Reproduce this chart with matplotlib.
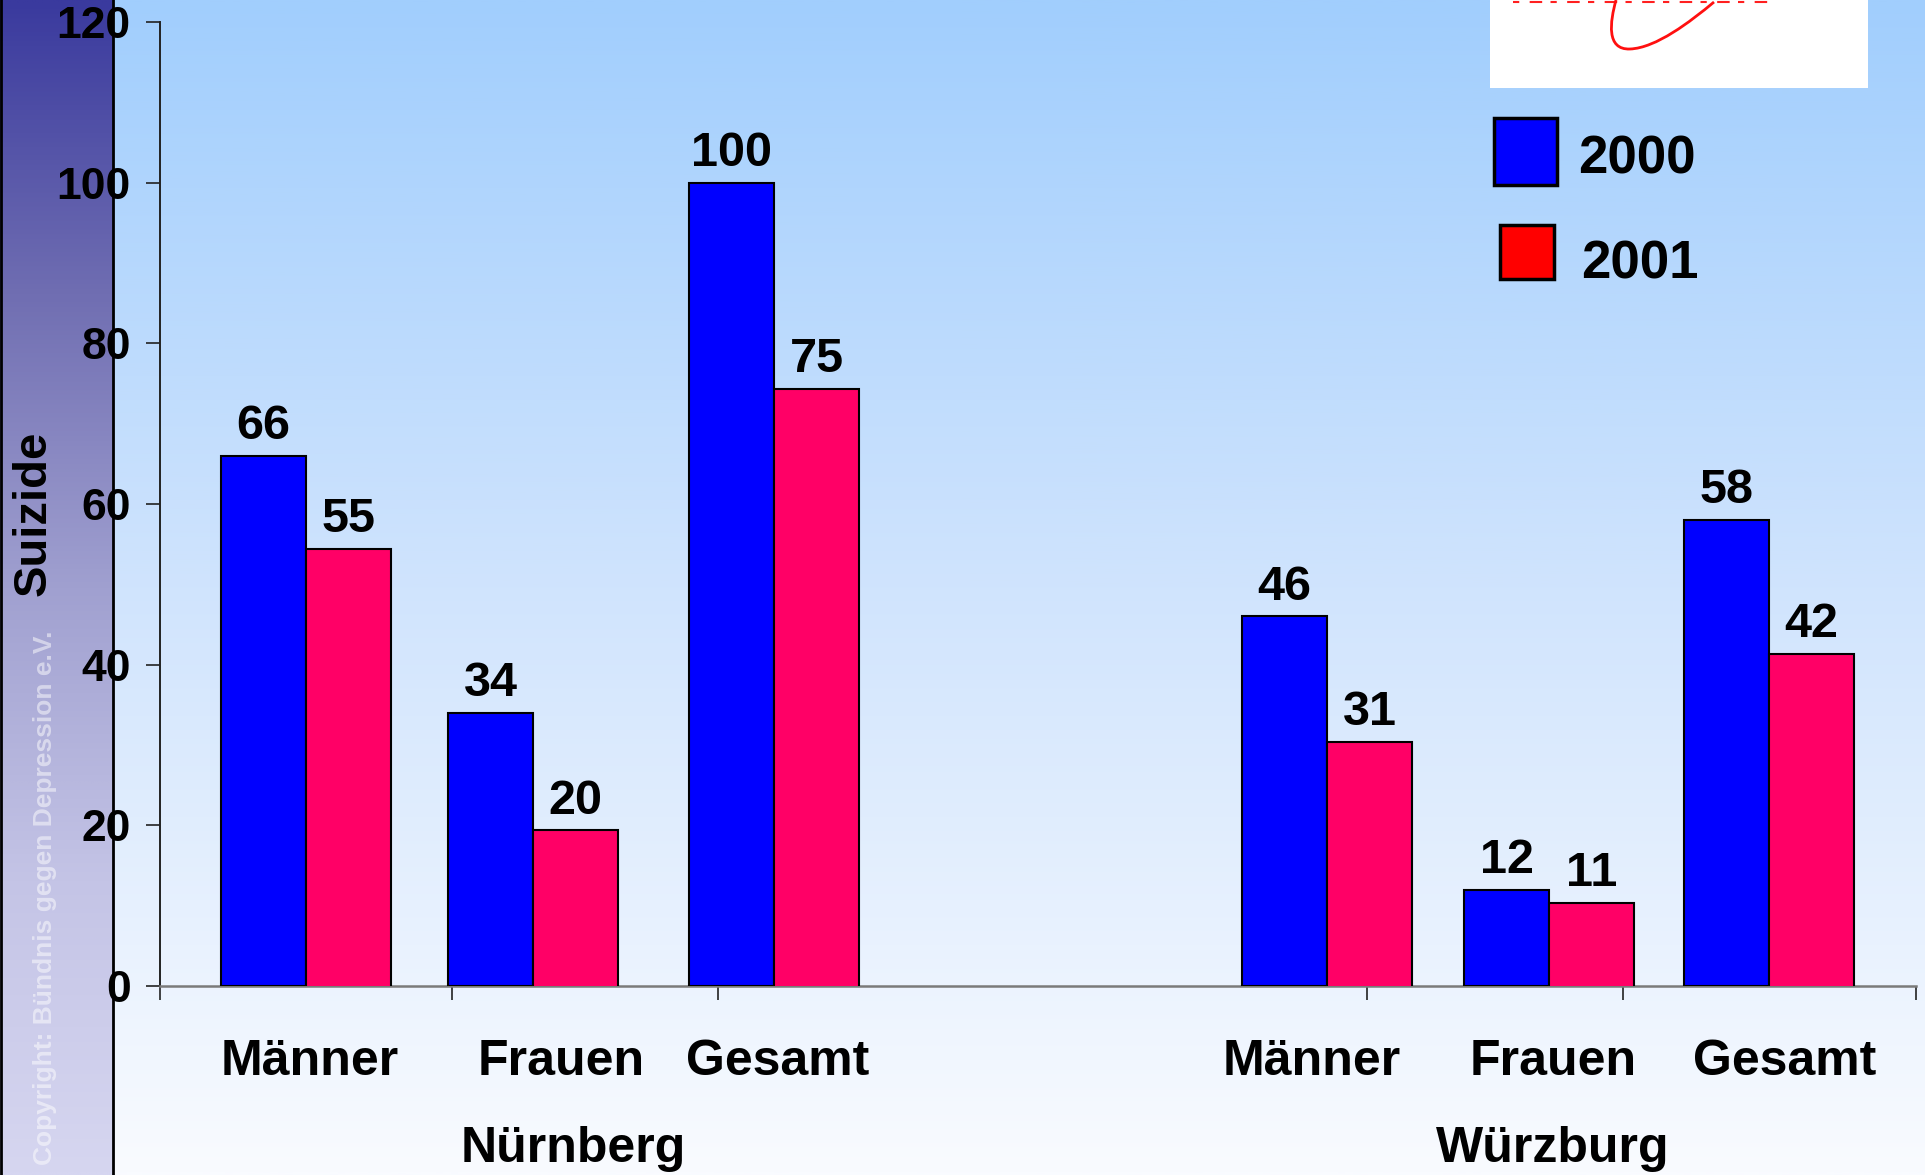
import numpy as np
import matplotlib
matplotlib.use("Agg")
import matplotlib.pyplot as plt
from matplotlib import transforms
from matplotlib.patches import Rectangle, PathPatch
from matplotlib.path import Path
from matplotlib.lines import Line2D
from matplotlib.colors import LinearSegmentedColormap

# ---------------- data ----------------
cities = ["Nürnberg", "Würzburg"]
categories = ["Männer", "Frauen", "Gesamt"]
series_names = ["2000", "2001"]
nuernberg_2000 = [66, 34, 100]
nuernberg_2001 = [55, 20, 75]
wuerzburg_2000 = [46, 12, 58]
wuerzburg_2001 = [31, 11, 42]
y_ticks = [0, 20, 40, 60, 80, 100, 120]
y_label = "Suizide"
copyright_text = "Copyright: Bündnis gegen Depression e.V."

# ---------------- layout (not data) ----------------
W, H = 1925, 1175
group_pos = [0.0, 1.011, 2.084, 4.540, 5.527, 6.504]
label_pos = [0.02, 1.136, 2.096, 4.473, 5.544, 6.576]
city_pos = [1.189, 5.544]
xtick_pos = [-0.647, 0.651, 1.833, 4.716, 5.856, 7.158]
bar_w = 0.378
xlim = (-0.647, 7.158)

plt.rcParams['font.family'] = ['Liberation Sans', 'DejaVu Sans']
plt.rcParams['font.weight'] = 'bold'

fig = plt.figure(figsize=(W / 100, H / 100), dpi=100)


def fx(px):
    return px / W


def fy(py):
    return 1 - py / H


# background gradient
bg = fig.add_axes([0, 0, 1, 1], zorder=-10)
bg_cmap = LinearSegmentedColormap.from_list(
    "bg", [(0.0, (161/255, 206/255, 253/255)),
           (0.5, (208/255, 228/255, 253/255)),
           (1.0, (249/255, 251/255, 255/255))])
grad = np.linspace(0, 1, 512).reshape(-1, 1)
bg.imshow(grad, aspect='auto', cmap=bg_cmap, extent=[0, 1, 0, 1], origin='upper')
bg.set_axis_off()

# sidebar
sb = fig.add_axes([0, 0, fx(113), 1], zorder=-5)
sb_cmap = LinearSegmentedColormap.from_list(
    "sb", [(0.0, (58/255, 58/255, 158/255)),
           (0.25, (112/255, 110/255, 178/255)),
           (0.5, (160/255, 160/255, 208/255)),
           (0.75, (196/255, 196/255, 230/255)),
           (1.0, (214/255, 214/255, 240/255))])
sb.imshow(grad, aspect='auto', cmap=sb_cmap, extent=[0, 1, 0, 1], origin='upper')
sb.set_axis_off()
fig.add_artist(Line2D([fx(113), fx(113)], [0, 1], color='black', lw=2, transform=fig.transFigure))
fig.add_artist(Line2D([fx(1), fx(1)], [0, 1], color='black', lw=2, transform=fig.transFigure))

# main axes
ax = fig.add_axes([fx(160), fy(986), fx(1916) - fx(160), (986 - 22) / H], zorder=1)
ax.patch.set_alpha(0)
ax.set_xlim(*xlim)
ax.set_ylim(0, 120)
for s in ['top', 'right']:
    ax.spines[s].set_visible(False)
ax.spines['left'].set_color('#222222')
ax.spines['left'].set_linewidth(1.4)
ax.spines['bottom'].set_color('#7a7a7a')
ax.spines['bottom'].set_linewidth(1.8)

ax.set_yticks(y_ticks)
ax.set_yticklabels([str(t) for t in y_ticks], fontsize=32, fontweight='bold')
ax.tick_params(axis='y', length=10, width=1.2, color='#222222', pad=11)
ax.set_xticks(xtick_pos)
ax.set_xticklabels([])
ax.tick_params(axis='x', length=10, width=1.2, color='#222222')

vals_2000 = nuernberg_2000 + wuerzburg_2000
vals_2001 = nuernberg_2001 + wuerzburg_2001
xs = np.array(group_pos)

b1 = ax.bar(xs - bar_w / 2, vals_2000, width=bar_w, color='#0000ff',
            edgecolor='black', linewidth=1.5, zorder=3)
b2 = ax.bar(xs + bar_w / 2, vals_2001, width=bar_w, color='#ff0066',
            edgecolor='black', linewidth=1.5, zorder=3)
shift = transforms.ScaledTranslation(0, -5 / 100, fig.dpi_scale_trans)
for p in b2:
    p.set_transform(ax.transData + shift)

for x, v in zip(xs - bar_w / 2, vals_2000):
    ax.annotate(str(v), (x, v), xytext=(0, 12), textcoords='offset points',
                ha='center', va='baseline', fontsize=35, fontweight='bold', zorder=5)
for x, v in zip(xs + bar_w / 2, vals_2001):
    ax.annotate(str(v), (x, v), xytext=(0, 8.5), textcoords='offset points',
                ha='center', va='baseline', fontsize=35, fontweight='bold', zorder=5)

blend = transforms.blended_transform_factory(ax.transData, fig.transFigure)
for x, c in zip(label_pos, categories * 2):
    ax.text(x, fy(1062), c, transform=blend, ha='center', va='center',
            fontsize=36, fontweight='bold', clip_on=False)
for x, c in zip(city_pos, cities):
    ax.text(x, fy(1149), c, transform=blend, ha='center', va='center',
            fontsize=36, fontweight='bold', clip_on=False)

# y label and copyright in sidebar
fig.text(fx(34), fy(513), y_label, rotation=90, ha='center', va='center',
         fontsize=34, fontweight='bold')
fig.text(fx(45), fy(898), copyright_text, rotation=90, ha='center', va='center',
         fontsize=19, fontweight='bold', color='white', alpha=0.5)

# logo box (top right)
fig.add_artist(Rectangle((fx(1490), fy(88)), fx(1868) - fx(1490), 88 / H,
                         transform=fig.transFigure, facecolor='white', edgecolor='none', zorder=2))
fig.add_artist(Line2D([fx(1513), fx(1773)], [fy(2), fy(2)], color='#ff2020', lw=1.5,
                      dashes=(3, 5, 6, 4), transform=fig.transFigure, zorder=3))
verts = [(1616, 0), (1610, 22), (1606, 50), (1630, 49),
         (1656, 48), (1690, 22), (1714, 2)]
verts = [(fx(a), fy(b)) for a, b in verts]
codes = [Path.MOVETO, Path.CURVE4, Path.CURVE4, Path.CURVE4,
         Path.CURVE4, Path.CURVE4, Path.CURVE4]
fig.add_artist(PathPatch(Path(verts, codes), transform=fig.transFigure,
                         facecolor='none', edgecolor='#ff1010', lw=2, zorder=3))

# legend (manual)
leg_colors = ['#0000ff', '#ff0000']
leg_boxes = [(1494, 118, 1557, 185), (1500, 225, 1554, 279)]
leg_text = [(1578, 160), (1581, 264)]
for (x0, y0, x1, y1), col, (tx, ty), name in zip(leg_boxes, leg_colors, leg_text, series_names):
    fig.add_artist(Rectangle((fx(x0), fy(y1)), fx(x1) - fx(x0), (y1 - y0) / H,
                             transform=fig.transFigure, facecolor=col,
                             edgecolor='black', lw=2.5, zorder=3))
    fig.text(fx(tx), fy(ty), name, ha='left', va='center', fontsize=38,
             fontweight='bold', zorder=3)

fig.savefig("out.png", dpi=100)
